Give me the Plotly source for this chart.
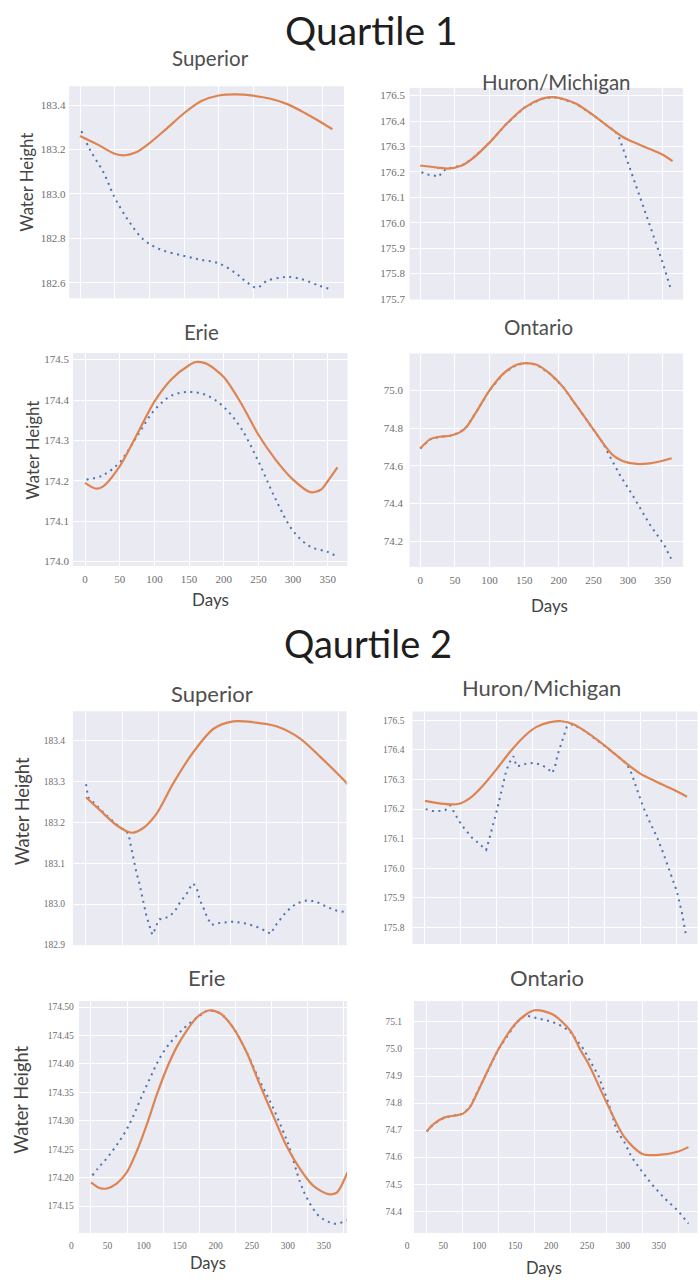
import plotly.graph_objects as go

W, H = 700, 1284
ORANGE = "#DD8452"
BLUE = "#4C72B0"
PANEL_BG = "#EAEAF2"
SANS = "Lato, 'Open Sans', sans-serif"
SERIF = "'Liberation Serif', 'DejaVu Serif', serif"

# ------------------------------------------------------------------
# Water height (m) against day of year.
# "trend" = smooth seasonal curve (solid), "level" = quartile series (dotted)
# ------------------------------------------------------------------
day_ticks = [0, 50, 100, 150, 200, 250, 300, 350]

# ---- Quartile 1 ----
sup1_trend_days = [0, 25, 50, 65, 80, 100, 125, 150, 175, 200, 225, 250, 275, 300, 325, 350, 364]
sup1_trend = [183.261, 183.223, 183.181, 183.174, 183.186, 183.228, 183.294, 183.363, 183.418,
              183.443, 183.448, 183.442, 183.428, 183.403, 183.363, 183.318, 183.291]
sup1_level_days = [2, 14, 34, 50, 70, 91, 115, 150, 175, 200, 225, 240, 255, 270, 290, 300, 320, 345, 364]
sup1_level = [183.283, 183.201, 183.096, 182.984, 182.879, 182.796, 182.751, 182.721, 182.703, 182.688,
              182.642, 182.604, 182.578, 182.609, 182.624, 182.627, 182.616, 182.587, 182.569]

hur1_trend_days = [0, 25, 40, 60, 75, 100, 125, 150, 175, 190, 200, 225, 250, 275, 290, 300, 325, 350, 364]
hur1_trend = [176.225, 176.217, 176.213, 176.225, 176.251, 176.315, 176.39, 176.452, 176.487, 176.494,
              176.491, 176.468, 176.422, 176.371, 176.341, 176.326, 176.297, 176.267, 176.242]
hur1_level_days = [2, 9, 19, 27, 32, 38, 60, 75, 100, 125, 150, 175, 190, 200, 225, 250, 275, 285, 290,
                   300, 325, 350, 362]
hur1_level = [176.199, 176.19, 176.186, 176.181, 176.2, 176.212, 176.225, 176.251, 176.315, 176.39,
              176.452, 176.487, 176.494, 176.491, 176.468, 176.422, 176.371, 176.349, 176.311, 176.235,
              176.039, 175.841, 175.735]

eri1_trend_days = [0, 15, 25, 50, 75, 100, 125, 150, 160, 175, 200, 225, 250, 275, 300, 325, 340, 350, 364]
eri1_trend = [174.195, 174.181, 174.185, 174.236, 174.315, 174.396, 174.452, 174.486, 174.494, 174.49,
              174.457, 174.392, 174.314, 174.252, 174.203, 174.172, 174.178, 174.199, 174.233]
eri1_level_days = [2, 25, 50, 75, 100, 125, 150, 175, 200, 225, 250, 275, 300, 325, 350, 364]
eri1_level = [174.203, 174.213, 174.246, 174.31, 174.375, 174.411, 174.42, 174.412, 174.383, 174.33,
              174.248, 174.154, 174.076, 174.037, 174.024, 174.012]

ont1_trend_days = [0, 14, 28, 43, 57, 67, 81, 100, 120, 139, 153, 168, 187, 206, 225, 244, 264, 278,
                   292, 312, 331, 350, 363]
ont1_trend = [74.692, 74.74, 74.754, 74.759, 74.777, 74.807, 74.886, 75.0, 75.088, 75.135, 75.144,
              75.135, 75.088, 75.018, 74.921, 74.824, 74.719, 74.657, 74.626, 74.61, 74.613, 74.627, 74.64]
ont1_level_days = [0, 14, 28, 43, 57, 67, 81, 100, 120, 139, 153, 168, 187, 206, 225, 244, 264, 268,
                   288, 309, 331, 345, 352, 362]
ont1_level = [74.692, 74.74, 74.754, 74.759, 74.777, 74.807, 74.886, 75.0, 75.088, 75.135, 75.144,
              75.135, 75.088, 75.018, 74.921, 74.824, 74.719, 74.689, 74.552, 74.429, 74.291, 74.218,
              74.182, 74.109]

# ---- Quartile 2 ----
sup2_trend_days = [0, 19, 42, 63, 79, 98, 121, 149, 177, 204, 232, 264, 297, 325, 362, 364]
sup2_trend = [183.262, 183.231, 183.194, 183.175, 183.186, 183.222, 183.296, 183.373, 183.43, 183.448,
              183.446, 183.436, 183.406, 183.361, 183.296, 183.292]
sup2_level_days = [0, 3, 10, 25, 40, 55, 59, 62, 66, 70, 74, 78, 81, 84, 87, 92, 96, 98, 102, 107,
                   117, 121, 126, 130, 135, 141, 147, 150, 154, 158, 162, 165, 168, 174, 181, 186,
                   204, 223, 237, 251, 256, 264, 278, 292, 306, 318, 331, 345, 361, 364]
sup2_level = [183.294, 183.262, 183.25, 183.223, 183.199, 183.178, 183.173, 183.145, 183.11, 183.077,
              183.051, 183.022, 182.994, 182.97, 182.954, 182.925, 182.939, 182.949, 182.963, 182.964,
              182.971, 182.98, 182.99, 183.003, 183.015, 183.029, 183.05, 183.048, 183.036, 183.009,
              182.995, 182.98, 182.968, 182.949, 182.952, 182.954, 182.957, 182.952, 182.944, 182.933,
              182.927, 182.95, 182.982, 183.002, 183.009, 183.007, 182.996, 182.985, 182.98, 182.979]

hur2_trend_days = [0, 16, 35, 49, 62, 81, 100, 118, 137, 155, 174, 190, 206, 224, 243, 262, 280, 299,
                   322, 345, 364]
hur2_trend = [176.228, 176.221, 176.216, 176.219, 176.236, 176.281, 176.337, 176.393, 176.444, 176.478,
              176.494, 176.497, 176.487, 176.461, 176.427, 176.39, 176.354, 176.32, 176.292, 176.266,
              176.242]
hur2_level_days = [1, 10, 19, 28, 35, 39, 44, 51, 58, 65, 72, 79, 85, 89, 93, 96, 100, 103, 107, 110,
                   113, 118, 123, 127, 133, 141, 151, 160, 169, 177, 181, 184, 188, 192, 197, 199,
                   206, 224, 243, 262, 280, 287, 294, 303, 313, 322, 331, 340, 350, 357, 362]
hur2_level = [176.2, 176.194, 176.194, 176.196, 176.213, 176.194, 176.174, 176.146, 176.124, 176.104,
              176.09, 176.075, 176.062, 176.096, 176.129, 176.161, 176.197, 176.23, 176.264, 176.298,
              176.331, 176.36, 176.379, 176.345, 176.347, 176.354, 176.356, 176.351, 176.34, 176.322,
              176.348, 176.382, 176.41, 176.444, 176.478, 176.483, 176.487, 176.461, 176.427, 176.39,
              176.354, 176.32, 176.27, 176.208, 176.152, 176.107, 176.051, 175.989, 175.921, 175.848,
              175.781]

eri2_trend_days = [0, 12, 22, 36, 50, 63, 77, 91, 105, 119, 133, 147, 163, 179, 197, 216, 234, 253,
                   271, 290, 308, 329, 341, 355, 364]
eri2_trend = [174.192, 174.182, 174.181, 174.19, 174.21, 174.245, 174.292, 174.345, 174.392, 174.43,
              174.459, 174.482, 174.494, 174.489, 174.464, 174.42, 174.364, 174.308, 174.256, 174.215,
              174.186, 174.171, 174.174, 174.207, 174.232]
eri2_level_days = [2, 10, 25, 50, 75, 100, 125, 150, 163, 179, 197, 216, 234, 250, 265, 275, 290, 300,
                   315, 330, 340, 355, 364]
eri2_level = [174.204, 174.217, 174.239, 174.286, 174.356, 174.42, 174.458, 174.484, 174.494, 174.489,
              174.464, 174.42, 174.37, 174.33, 174.286, 174.254, 174.192, 174.163, 174.134, 174.122,
              174.119, 174.125, 174.128]

ont2_trend_days = [0, 10, 25, 40, 50, 60, 75, 100, 125, 150, 175, 200, 213, 225, 250, 275, 300, 325,
                   350, 364]
ont2_trend = [74.695, 74.723, 74.747, 74.754, 74.76, 74.784, 74.864, 75.0, 75.098, 75.143, 75.128,
              75.067, 75.0, 74.945, 74.803, 74.674, 74.612, 74.609, 74.621, 74.637]
ont2_level_days = [0, 10, 25, 40, 50, 60, 75, 100, 125, 137, 150, 175, 190, 200, 218, 239, 253, 264,
                   275, 285, 300, 313, 330, 350, 364]
ont2_level = [74.695, 74.723, 74.747, 74.754, 74.76, 74.784, 74.864, 75.0, 75.098, 75.125, 75.116,
              75.1, 75.082, 75.062, 75.0, 74.9, 74.8, 74.7, 74.655, 74.6, 74.545, 74.5, 74.45, 74.4,
              74.354]

# Day labels on the second block sit 27 days left of the grid lines
Q2_LABEL_SHIFT = -27

# ------------------------------------------------------------------
# Panel geometry (pixels) and axis settings
# box = (left, top, right, bottom) of the shaded plotting area
# ------------------------------------------------------------------
panels = [
    dict(title="Superior", trend=(sup1_trend_days, sup1_trend), level=(sup1_level_days, sup1_level),
         box=(69, 86.7, 344, 299.3), xr=(-15.9, 380.8), yr=(182.531, 183.484), dtick=0.2, fmt=".1f",
         tsize=11, ygap=3.3, xlabels=False, shift=0, shape="spline",
         title_at=(210, 58, 20.5), ylab_at=(26.5, 183, 16.8), xlab_at=None),
    dict(title="Huron/Michigan", trend=(hur1_trend_days, hur1_trend), level=(hur1_level_days, hur1_level),
         box=(409.3, 88.3, 683.3, 300.7), xr=(-15.6, 379.5), yr=(175.698, 176.53), dtick=0.1, fmt=".1f",
         tsize=11, ygap=4, xlabels=False, shift=0, shape="linear",
         title_at=(556.5, 82, 20.5), ylab_at=None, xlab_at=None),
    dict(title="Erie", trend=(eri1_trend_days, eri1_trend), level=(eri1_level_days, eri1_level),
         box=(72.7, 354.3, 347.7, 568.3), xr=(-17.8, 378.8), yr=(173.989, 174.5165), dtick=0.1, fmt=".1f",
         tsize=11, ygap=3.4, xlabels=True, shift=0, shape="spline",
         title_at=(201.5, 333, 20.5), ylab_at=(32.5, 452, 16.8), xlab_at=(210, 601.5, 17)),
    dict(title="Ontario", trend=(ont1_trend_days, ont1_trend), level=(ont1_level_days, ont1_level),
         box=(409.3, 355, 683.3, 569.3), xr=(-15.8, 379.7), yr=(74.064, 75.194), dtick=0.2, fmt=".1f",
         tsize=11, ygap=6, xlabels=True, shift=0, shape="linear",
         title_at=(538, 328.5, 20.5), ylab_at=None, xlab_at=(549, 608, 17)),
    dict(title="Superior", trend=(sup2_trend_days, sup2_trend), level=(sup2_level_days, sup2_level),
         box=(72.7, 714, 346.7, 949), xr=(-18.4, 361.6), yr=(182.899, 183.473), dtick=0.1, fmt=".1f",
         tsize=9.5, ygap=7.7, xlabels=False, shift=0, shape="linear",
         title_at=(211.5, 696.5, 22), ylab_at=(21.5, 815, 18.3), xlab_at=None),
    dict(title="Huron/Michigan", trend=(hur2_trend_days, hur2_trend), level=(hur2_level_days, hur2_level),
         box=(412.3, 714.3, 697.7, 947.7), xr=(-17.6, 378.8), yr=(175.744, 176.53), dtick=0.1, fmt=".1f",
         tsize=9.5, ygap=8, xlabels=False, shift=0, shape="linear",
         title_at=(541, 690, 22), ylab_at=None, xlab_at=None),
    dict(title="Erie", trend=(eri2_trend_days, eri2_trend), level=(eri2_level_days, eri2_level),
         box=(79, 1005, 347, 1237.7), xr=(-16.6, 355), yr=(174.103, 174.5105), dtick=0.05, fmt=".2f",
         tsize=9.5, ygap=5.3, xlabels=True, shift=Q2_LABEL_SHIFT, shape="spline",
         title_at=(206.5, 981.5, 22), ylab_at=(21, 1104, 18.3), xlab_at=(208, 1268, 16.5)),
    dict(title="Ontario", trend=(ont2_trend_days, ont2_trend), level=(ont2_level_days, ont2_level),
         box=(414, 1005, 697.7, 1237.7), xr=(-17.6, 376.9), yr=(74.32, 75.177), dtick=0.1, fmt=".1f",
         tsize=9.5, ygap=12, xlabels=True, shift=Q2_LABEL_SHIFT, shape="linear",
         title_at=(546.5, 981.5, 22), ylab_at=None, xlab_at=(543.5, 1273, 16.5)),
]

block_titles = [("Quartile 1", 371, 30, 39), ("Qaurtile 2", 368, 646, 38)]

TICK_COLOR = "#6e6e6e"
TEXT_COLOR = "#444444"
SUBTITLE_COLOR = "#4f4f4f"


def fx(px):
    return px / W


def fy(py):
    return 1 - py / H


fig = go.Figure()
layout = {}
shapes = []
annotations = []
extra_axis = len(panels)

for i, p in enumerate(panels, start=1):
    sfx = "" if i == 1 else str(i)
    xid, yid = f"x{sfx}", f"y{sfx}"
    left, top, right, bottom = p["box"]
    x0, x1 = p["xr"]
    scale = (right - left) / (x1 - x0)

    # widen the axis to the left when shifted day labels fall outside the shading
    ax_x0, dom_left = x0, left
    if p["shift"]:
        ax_x0 = min(x0, p["shift"] - 4)
        dom_left = left - (x0 - ax_x0) * scale

    tick_font = dict(family=SERIF, size=p["tsize"], color=TICK_COLOR)
    layout[f"xaxis{sfx}"] = dict(
        domain=[fx(dom_left), fx(right)], range=[ax_x0, x1], anchor=yid,
        tick0=0, dtick=50, showgrid=True, gridcolor="white", gridwidth=1.4,
        zeroline=False, showline=False, ticks="outside", ticklen=3, tickcolor="rgba(0,0,0,0)",
        showticklabels=bool(p["xlabels"] and not p["shift"]), tickfont=tick_font,
    )
    layout[f"yaxis{sfx}"] = dict(
        domain=[fy(bottom), fy(top)], range=list(p["yr"]), anchor="free", position=fx(left),
        tick0=0, dtick=p["dtick"], tickformat=p["fmt"], showgrid=True, gridcolor="white",
        gridwidth=1.4, zeroline=False, showline=False, ticks="outside",
        ticklen=max(p["ygap"] - 2, 0), tickcolor="rgba(0,0,0,0)", tickfont=tick_font,
    )

    # shaded plotting area
    shapes.append(dict(type="rect", xref=xid, yref=f"{yid} domain", x0=x0, x1=x1, y0=0, y1=1,
                       fillcolor=PANEL_BG, line_width=0, layer="below"))

    ld, lv = p["level"]
    fig.add_trace(go.Scatter(x=ld, y=lv, mode="lines", xaxis=xid, yaxis=yid,
                             line=dict(color=BLUE, width=2, dash="2px,4.5px", shape=p["shape"]),
                             showlegend=False, hoverinfo="skip"))
    td, tv = p["trend"]
    fig.add_trace(go.Scatter(x=td, y=tv, mode="lines", xaxis=xid, yaxis=yid,
                             line=dict(color=ORANGE, width=2.2, shape="spline", smoothing=0.8),
                             showlegend=False, hoverinfo="skip"))

    # day labels offset from the grid on the second block
    if p["xlabels"] and p["shift"]:
        extra_axis += 1
        lab_vals = [d + p["shift"] for d in day_ticks]
        layout[f"xaxis{extra_axis}"] = dict(
            overlaying=xid, anchor=yid, side="bottom", range=[ax_x0, x1],
            tickvals=lab_vals, ticktext=[str(d) for d in day_ticks],
            showgrid=False, zeroline=False, showline=False, ticks="outside", ticklen=4,
            tickcolor="rgba(0,0,0,0)", tickfont=tick_font,
        )
        fig.add_trace(go.Scatter(x=lab_vals, y=[None] * len(lab_vals), mode="markers",
                                 xaxis=f"x{extra_axis}", yaxis=yid, showlegend=False,
                                 hoverinfo="skip"))

    tx, ty, ts = p["title_at"]
    annotations.append(dict(text=p["title"], x=fx(tx), y=fy(ty), xref="paper", yref="paper",
                            xanchor="center", yanchor="middle", showarrow=False,
                            font=dict(family=SANS, size=ts, color=SUBTITLE_COLOR)))
    if p["ylab_at"]:
        ax_, ay_, s_ = p["ylab_at"]
        annotations.append(dict(text="Water Height", x=fx(ax_), y=fy(ay_), xref="paper", yref="paper",
                                xanchor="center", yanchor="middle", textangle=-90, showarrow=False,
                                font=dict(family=SANS, size=s_, color=TEXT_COLOR)))
    if p["xlab_at"]:
        ax_, ay_, s_ = p["xlab_at"]
        annotations.append(dict(text="Days", x=fx(ax_), y=fy(ay_), xref="paper", yref="paper",
                                xanchor="center", yanchor="middle", showarrow=False,
                                font=dict(family=SANS, size=s_, color=TEXT_COLOR)))

for text, tx, ty, ts in block_titles:
    annotations.append(dict(text=text, x=fx(tx), y=fy(ty), xref="paper", yref="paper",
                            xanchor="center", yanchor="middle", showarrow=False,
                            font=dict(family=SANS, size=ts, color="#1e1e1e")))

fig.update_layout(
    width=W, height=H, autosize=False,
    margin=dict(l=0, r=0, t=0, b=0),
    paper_bgcolor="white", plot_bgcolor="white",
    shapes=shapes, annotations=annotations,
    **layout,
)

fig.write_html("out.html")
